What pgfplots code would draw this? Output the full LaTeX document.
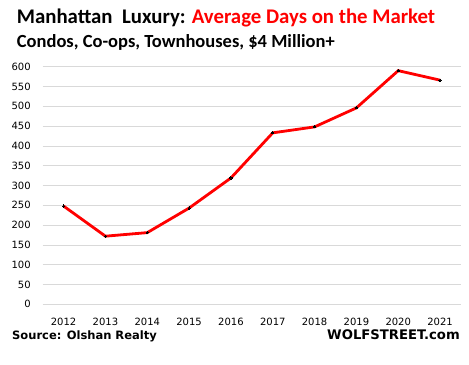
\documentclass[border=0pt]{standalone}
\usepackage{fontspec}
\setmainfont{DejaVu Sans}
\newfontfamily\calib{Carlito}
\usepackage{pgfplots}
\pgfplotsset{compat=1.18}
\definecolor{gridgray}{HTML}{D9D9D9}
\begin{document}
\begin{tikzpicture}
\useasboundingbox (0,0) rectangle (469bp,365bp);
\begin{axis}[
  at={(42.7bp,60.7bp)}, anchor=south west,
  scale only axis, width=418.3bp, height=237.6bp,
  xmin=-0.5, xmax=9.5, ymin=0, ymax=600,
  xtick={0,...,9},
  xticklabels={2012,2013,2014,2015,2016,2017,2018,2019,2020,2021},
  ytick={0,50,...,600},
  xmajorgrids=false, ymajorgrids=true,
  y grid style={gridgray, line width=0.8pt},
  axis line style={draw=none},
  major tick length=0pt,
  tick label style={font=\fontsize{10bp}{12bp}\selectfont},
  /pgf/number format/assume math mode=true,
  yticklabel style={xshift=-8.5bp},
  xticklabel style={yshift=-10bp},
  clip=false,
]
\addplot[red, line width=2.8bp, mark=*, mark size=1.1bp, mark options={black, fill=black, line width=0pt}] coordinates {
(0,248) (1,172) (2,181) (3,243) (4,319) (5,433) (6,448) (7,496) (8,590) (9,566)
};
\end{axis}
\node[anchor=base west, inner sep=0pt, font=\calib\bfseries\fontsize{20.8bp}{22bp}\selectfont] at (16.7bp,341bp) {Manhattan\ \ Luxury: \textcolor{red}{Average Days on the Market}};
\node[anchor=base west, inner sep=0pt, font=\calib\bfseries\fontsize{18.5bp}{20bp}\selectfont] at (16.7bp,317.7bp) {Condos, Co-ops, Townhouses, \$4 Million+};
\node[anchor=base west, inner sep=0pt, font=\bfseries\fontsize{11.5bp}{13bp}\selectfont] at (12bp,26bp) {Source: Olshan Realty};
\node[anchor=base east, inner sep=0pt, font=\bfseries\fontsize{13.2bp}{15bp}\selectfont] at (460bp,26bp) {WOLFSTREET.com};
\end{tikzpicture}
\end{document}
